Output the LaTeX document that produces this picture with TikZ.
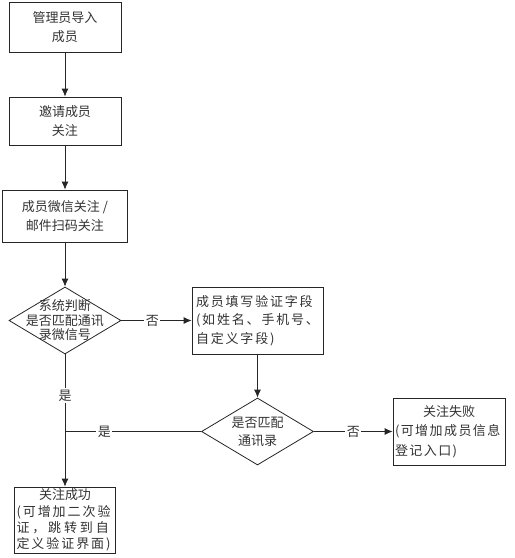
\documentclass[tikz,border=0pt]{standalone}
\usepackage{fontspec}
\setmainfont{Noto Sans CJK SC}
\usetikzlibrary{shapes.geometric, arrows.meta}
\tikzstyle{normalBox} = [shape=rectangle, draw=black!85, text=black!80, line width=0.8pt,
	align=center, fill=white, inner sep=0pt, font=\fontsize{13}{19}\selectfont]
\tikzstyle{decisionBox} = [shape=diamond, draw=black!85, line width=0.8pt, fill=white,
	inner sep=0pt, minimum width=112pt, minimum height=67pt]
\tikzstyle{decisionText} = [text=black!80, align=center, inner sep=0pt]
\tikzstyle{normalArrow} = [line width=0.8pt, -{Latex[length=8pt,width=7pt]}, draw=black!85]
\tikzstyle{normalLine} = [line width=0.8pt, draw=black!85]
\tikzstyle{labelText} = [fill=white, text=black!80, inner sep=1.5pt, font=\fontsize{13}{15}\selectfont]

\begin{document}
\begin{tikzpicture}[x=1pt, y=-1pt]
  \useasboundingbox (0,0) rectangle (515,558);

  \node (IMPT) [normalBox, minimum width=112pt, minimum height=50pt] at (65,27) {管理员导入\\成员};
  \node (INVT) [normalBox, minimum width=112pt, minimum height=48pt] at (65,121) {邀请成员\\关注};
  \node (SCAN) [normalBox, minimum width=125pt, minimum height=52pt] at (65,216) {成员微信关注 /\\邮件扫码关注};
  \node (SYSJ) [decisionBox] at (65,320.5) {};
  \node [decisionText, font=\fontsize{13}{14.5}\selectfont] at (SYSJ) {系统判断\\是否匹配通讯\\录微信号};
  \node (FILL) [normalBox, minimum width=131pt, minimum height=67pt, align=left,
    font=\fontsize{13}{18.5}\selectfont\addfontfeature{LetterSpace=14}] at (257.5,320.5)
    {成员填写验证字段\\(如姓名、手机号、\\自定义字段)};
  \node (MTCH) [decisionBox] at (257.5,431.5) {};
  \node [decisionText, font=\fontsize{13}{18}\selectfont] at (MTCH) {是否匹配\\通讯录};
  \node (FAIL) [normalBox, minimum width=112pt, minimum height=67pt, align=left, font=\fontsize{13}{19.5}\selectfont] at (449,431.5)
    {\makebox[108pt]{关注失败}\\{\addfontfeature{LetterSpace=11}(可增加成员信息}\\{\addfontfeature{LetterSpace=11}登记入口)}};
  \node (SUCC) [normalBox, minimum width=101pt, minimum height=66pt, align=left, font=\fontsize{13}{16.4}\selectfont] at (65,520)
    {\makebox[97pt]{关注成功}\\{\addfontfeature{LetterSpace=15}(可增加二次验}\\{\addfontfeature{LetterSpace=22}证，跳转到自}\\{\addfontfeature{LetterSpace=15}定义验证界面)}};

  \draw [normalArrow] (IMPT) -- (INVT);
  \draw [normalArrow] (INVT) -- (SCAN);
  \draw [normalArrow] (SCAN) -- (SYSJ);
  \draw [normalArrow] (SYSJ) -- node[labelText, pos=0.44] {否} (FILL);
  \draw [normalArrow] (FILL) -- (MTCH);
  \draw [normalArrow] (MTCH) -- node[labelText] {否} (FAIL);
  \coordinate (JOIN) at (SYSJ |- MTCH);
  \draw [normalLine] (MTCH.west) -- node[labelText, pos=0.71] {是} (JOIN);
  \draw [normalArrow] (SYSJ) -- node[labelText, pos=0.31] {是} (SUCC);

\end{tikzpicture}
\end{document}
